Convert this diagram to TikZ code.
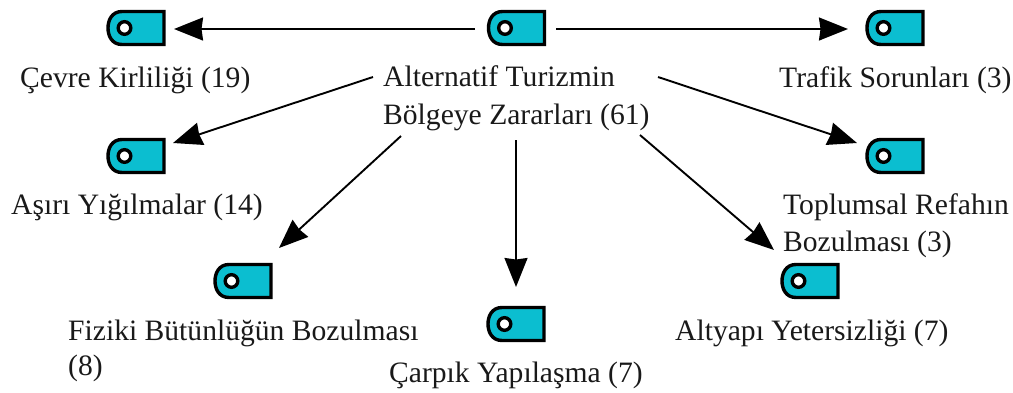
\documentclass[tikz,border=0pt]{standalone}
\usepackage{fontspec}
\setmainfont{Liberation Serif}
\usetikzlibrary{arrows.meta}
\definecolor{tagfill}{RGB}{11,190,208}
\tikzset{x=1pt,y=-1pt,
  lbl/.style={inner sep=0pt,anchor=base west,font=\fontsize{29.6}{38}\selectfont,text=black!90},
  tagbox/.style={minimum width=59pt,minimum height=36pt,inner sep=0pt},
  conn/.style={line width=1.9pt,-{Stealth[inset=1.5pt,length=29pt,width=23pt]},black}}
\newcommand{\tagicon}[3]{%
  \node[tagbox] (#1) at (#2,#3) {};
  \draw[line width=3.4pt,fill=tagfill,line join=miter] (#2+28,#3-16.5) -- (#2-14,#3-16.5) .. controls (#2-24,#3-16.5) and (#2-28,#3-8) .. (#2-28,#3) .. controls (#2-28,#3+8) and (#2-24,#3+16.5) .. (#2-14,#3+16.5) -- (#2+28,#3+16.5) -- cycle;
  \draw[line width=3.4pt,fill=white] (#2-11.5,#3) circle (6.3pt);}
\begin{document}
\begin{tikzpicture}
\useasboundingbox (0,0) rectangle (1013,392);
\tagicon{t0}{516.5}{28}
\tagicon{t1}{136}{28}
\tagicon{t2}{895}{28}
\tagicon{t3}{136}{156}
\tagicon{t4}{895}{156}
\tagicon{t5}{243}{281}
\tagicon{t6}{810}{281}
\tagicon{t7}{516}{324}
\node[lbl] (main1) at (383,86) {Alternatif Turizmin};
\node[lbl] (main2) at (383,124) {Bölgeye Zararları (61)};
\node[lbl] (l1) at (20,87) {Çevre Kirliliği (19)};
\node[lbl] (l2) at (779,87) {Trafik Sorunları (3)};
\node[lbl] (l3) at (11,214) {Aşırı Yığılmalar (14)};
\node[lbl] (l4a) at (783,214) {Toplumsal Refahın};
\node[lbl] (l4b) at (783,251) {Bozulması (3)};
\node[lbl] (l5a) at (68,340) {Fiziki Bütünlüğün Bozulması};
\node[lbl] (l5b) at (68,375) {(8)};
\node[lbl] (l6) at (675,340) {Altyapı Yetersizliği (7)};
\node[lbl] (l7) at (389,382) {Çarpık Yapılaşma (7)};
\coordinate (a1) at (475,29); \coordinate (b1) at (174,29);
\coordinate (a2) at (556,29); \coordinate (b2) at (848,29);
\coordinate (a3) at (373,77); \coordinate (b3) at (173,143);
\coordinate (a4) at (401,136); \coordinate (b4) at (279,248);
\coordinate (a5) at (516,140); \coordinate (b5) at (516,287);
\coordinate (a6) at (640,135); \coordinate (b6) at (774,250);
\coordinate (a7) at (658,77); \coordinate (b7) at (857,143);
\draw[conn] (a1) -- (b1);
\draw[conn] (a2) -- (b2);
\draw[conn] (a3) -- (b3);
\draw[conn] (a4) -- (b4);
\draw[conn] (a5) -- (b5);
\draw[conn] (a6) -- (b6);
\draw[conn] (a7) -- (b7);
\end{tikzpicture}
\end{document}
